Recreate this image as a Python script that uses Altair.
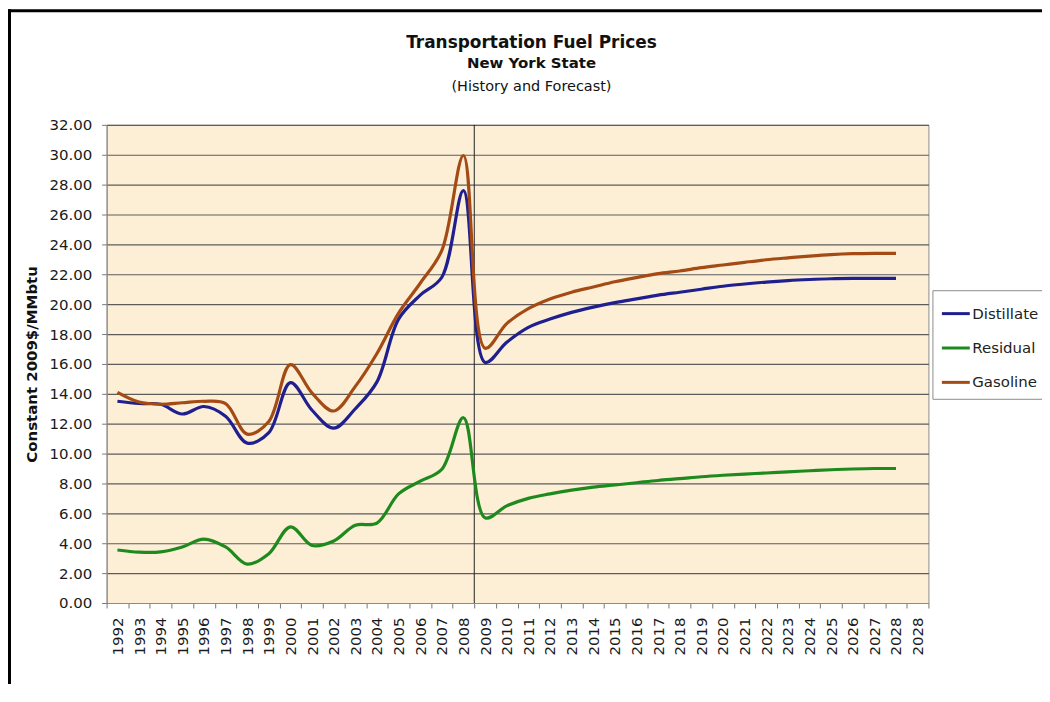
import altair as alt
import pandas as pd

years = list(range(1992, 2029))
tick_labels = [str(y) for y in years] + ["2028"]
series = ["Distillate", "Residual", "Gasoline"]
colors = ["#1F1F8F", "#1E8A1E", "#A44A14"]

distillate = [13.5, 13.35, 13.3, 12.65, 13.15, 12.5, 10.7, 11.4, 14.75, 12.9, 11.7, 13.0, 14.8,
              19.0, 20.6, 21.8, 27.6,
              16.1, 17.45, 18.45, 19.0, 19.45, 19.8, 20.1, 20.35, 20.6, 20.8, 21.0, 21.2, 21.35,
              21.48, 21.58, 21.65, 21.7, 21.72, 21.72, 21.72]
residual = [3.55, 3.4, 3.42, 3.75, 4.28, 3.75, 2.6, 3.3, 5.1, 3.85, 4.15, 5.2, 5.35,
            7.3, 8.15, 8.95, 12.4,
            5.7, 6.5, 7.0, 7.3, 7.55, 7.75, 7.9, 8.05, 8.2, 8.32, 8.45, 8.55, 8.63,
            8.7, 8.78, 8.85, 8.92, 8.97, 9.0, 9.0]
gasoline = [14.1, 13.45, 13.3, 13.4, 13.5, 13.35, 11.3, 12.15, 15.95, 14.05, 12.85, 14.5, 16.7,
            19.4, 21.4, 23.6, 29.95,
            17.05, 18.7, 19.7, 20.35, 20.8, 21.15, 21.5, 21.78, 22.04, 22.22, 22.44, 22.62, 22.8,
            22.97, 23.1, 23.22, 23.32, 23.38, 23.4, 23.4]
y_ticks = list(range(0, 33, 2))
forecast_start = 2009

title_main = "Transportation Fuel Prices"
title_sub1 = "New York State"
title_sub2 = "(History and Forecast)"
y_title = "Constant 2009$/MMbtu"

rows = []
for name, vals in zip(series, [distillate, residual, gasoline]):
    for i, (yr, v) in enumerate(zip(years, vals)):
        rows.append({"i": i, "year": yr, "series": name, "value": v})
df = pd.DataFrame(rows)

FONT = "DejaVu Sans"
label_expr = "[" + ",".join("'%s'" % t for t in tick_labels) + "][datum.value]"
x_scale = alt.Scale(type="band", domain=list(range(len(tick_labels))), paddingInner=0, paddingOuter=0)
x_axis = alt.Axis(title=None, labelExpr=label_expr, labelAngle=-90, tickBand="extent",
                  labelOverlap=False, labelFlush=False, grid=False, ticks=True, tickSize=5,
                  tickColor="#777777", domainColor="#8c8c8c", labelPadding=9,
                  labelFont=FONT, labelFontSize=15, labelColor="#1a1a1a")
y_axis = alt.Axis(values=y_ticks, format=".2f", title=y_title, titleFont=FONT, titleFontSize=15,
                  titleFontWeight="bold", titleColor="#111111", titleX=-75, titleY=240,
                  titleBaseline="middle", titleAngle=-90,
                  grid=True, gridColor="#5c5c5c", gridWidth=1.2, tickSize=5, tickColor="#777777",
                  domainColor="#8c8c8c", labelPadding=10, labelFont=FONT, labelFontSize=15,
                  labelColor="#1a1a1a")
y_scale = alt.Scale(domain=[0, 32], nice=False)

vdf = pd.DataFrame({"i": [years.index(forecast_start)]})
vrule = alt.Chart(vdf).mark_rule(color="#222222", strokeWidth=1).encode(
    x=alt.X("i:O", bandPosition=0, scale=x_scale, axis=x_axis)
)

lines = alt.Chart(df).mark_line(strokeWidth=3.2, interpolate="catmull-rom").encode(
    x=alt.X("i:O", scale=x_scale, axis=x_axis),
    y=alt.Y("value:Q", scale=y_scale, axis=y_axis),
    color=alt.Color("series:N", scale=alt.Scale(domain=series, range=colors),
                    legend=alt.Legend(title=None, orient="none", legendX=829, legendY=166,
                                      symbolType="stroke", symbolSize=784, symbolStrokeWidth=3,
                                      labelFont=FONT, labelFontSize=15, labelColor="#222222",
                                      labelOffset=1, padding=8, rowPadding=10.5,
                                      strokeColor="#8c8c8c", fillColor="white")),
)

one = pd.DataFrame({"k": [0]})
frame_top = alt.Chart(one).mark_rule(color="black", strokeWidth=3).encode(
    x=alt.value(-99), x2=alt.value(950), y=alt.value(-114.5), y2=alt.value(-114.5))
frame_left = alt.Chart(one).mark_rule(color="black", strokeWidth=3).encode(
    x=alt.value(-97.5), x2=alt.value(-97.5), y=alt.value(-116), y2=alt.value(700))


def text_layer(txt, y, size, weight):
    return alt.Chart(pd.DataFrame({"t": [txt]})).mark_text(
        font=FONT, fontSize=size, fontWeight=weight, color="#111111", align="center",
        baseline="alphabetic").encode(text="t:N", x=alt.value(426.5), y=alt.value(y))


t1 = text_layer(title_main, -77, 17, "bold")
t2 = text_layer(title_sub1, -57, 15, "bold")
t3 = text_layer(title_sub2, -34, 14.5, "normal")

chart = alt.layer(frame_top, frame_left, vrule, lines, t1, t2, t3).properties(
    width=825, height=480,
    autosize=alt.AutoSizeParams(type="none"),
    padding={"left": 99, "top": 116, "right": 114, "bottom": 80},
    background="white",
).configure_view(fill="#FCEFD6", stroke="#8c8c8c", strokeWidth=1)

chart.save("out.html", embed_options={"renderer": "svg", "actions": False})
